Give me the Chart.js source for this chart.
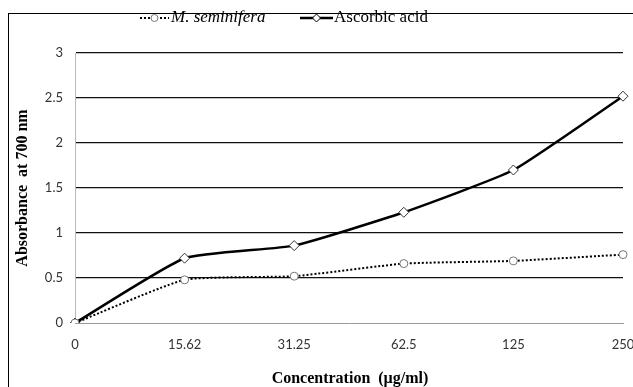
<!DOCTYPE html>
<html>
<head>
<meta charset="utf-8">
<script src="https://cdn.jsdelivr.net/npm/chart.js"></script>
<style>
  html, body { margin: 0; padding: 0; background: #fff; }
  #wrap { width: 633px; height: 387px; position: relative; }
</style>
</head>
<body>
<div id="wrap"><canvas id="myChart" width="633" height="387"></canvas></div>
<script>
const labels = ['0', '15.62', '31.25', '62.5', '125', '250'];
const seminifera = [0, 0.48, 0.52, 0.66, 0.69, 0.76];
const ascorbic = [0, 0.72, 0.86, 1.23, 1.70, 2.52];
const yTicks = [0, 0.5, 1, 1.5, 2, 2.5, 3];

const serif = '"Liberation Serif", "Times New Roman", serif';

// border, axis titles and the legend drawn by hand
const extras = {
    id: 'extras',
    afterDraw(chart) {
        const c = chart.ctx;
        c.save();
        c.strokeStyle = '#000';
        c.lineWidth = 1;
        c.strokeRect(8.5, 13.5, 700, 500);

        c.fillStyle = '#000';
        c.font = 'bold 16px ' + serif;
        c.textAlign = 'center';
        c.textBaseline = 'middle';
        c.fillText('Concentration  (\u00b5g/ml)', 350, 379);

        c.save();
        c.translate(23, 188);
        c.rotate(-Math.PI / 2);
        c.fillText('Absorbance  at 700 nm', 0, 0);
        c.restore();

        // legend item 1
        let y = 18;
        c.strokeStyle = '#000';
        c.lineWidth = 2;
        c.setLineDash([2, 2]);
        c.beginPath(); c.moveTo(140, y); c.lineTo(169, y); c.stroke();
        c.setLineDash([]);
        c.fillStyle = '#fff';
        c.strokeStyle = '#777';
        c.lineWidth = 1;
        c.beginPath(); c.arc(154.5, y, 3.5, 0, Math.PI * 2); c.fill(); c.stroke();
        c.fillStyle = '#000';
        c.font = 'italic 17px ' + serif;
        c.textAlign = 'left';
        c.fillText('M. seminifera', 171, y);

        // legend item 2
        c.strokeStyle = '#000';
        c.lineWidth = 2.5;
        c.beginPath(); c.moveTo(300, y); c.lineTo(333, y); c.stroke();
        c.fillStyle = '#fff';
        c.lineWidth = 1;
        c.beginPath();
        c.moveTo(316.5, y - 4); c.lineTo(320.5, y); c.lineTo(316.5, y + 4); c.lineTo(312.5, y);
        c.closePath(); c.fill(); c.stroke();
        c.fillStyle = '#000';
        c.font = '17px ' + serif;
        c.fillText('Ascorbic acid', 334, y);
        c.restore();
    }
};

new Chart(document.getElementById('myChart'), {
    type: 'line',
    data: {
        labels: labels,
        datasets: [{
            label: 'M. seminifera',
            data: seminifera,
            borderColor: '#000',
            borderWidth: 2,
            borderDash: [2, 2],
            tension: 0.15,
            pointStyle: 'circle',
            pointRadius: 4,
            pointBackgroundColor: '#fff',
            pointBorderColor: '#777',
            pointBorderWidth: 1
        }, {
            label: 'Ascorbic acid',
            data: ascorbic,
            borderColor: '#000',
            borderWidth: 2.5,
            tension: 0.15,
            pointStyle: 'rectRot',
            pointRadius: 5,
            pointBackgroundColor: '#fff',
            pointBorderColor: '#333',
            pointBorderWidth: 1
        }]
    },
    options: {
        responsive: false,
        animation: false,
        layout: { padding: { top: 53, right: 10, left: 0, bottom: 0 } },
        plugins: { legend: { display: false }, tooltip: { enabled: false } },
        scales: {
            x: {
                offset: false,
                afterFit(s) { s.height = 64; s.paddingLeft = 0; s.paddingRight = 0; },
                grid: { display: false, drawTicks: false },
                border: { color: '#999', width: 1 },
                ticks: { color: '#333', padding: 14, maxRotation: 0, font: { family: 'Lato, sans-serif', size: 13 } }
            },
            y: {
                min: 0, max: 3,
                afterFit(s) { s.width = 75; s.paddingTop = 0; s.paddingBottom = 0; },
                afterBuildTicks(s) { s.ticks = yTicks.map(v => ({ value: v })); },
                grid: {
                    drawTicks: false,
                    color: ctx => ctx.tick && ctx.tick.value === 0 ? 'rgba(0,0,0,0)' : '#111',
                    lineWidth: 1.3
                },
                border: { color: '#bbb', width: 1 },
                ticks: {
                    color: '#333', padding: 12,
                    font: { family: 'Lato, sans-serif', size: 13 },
                    callback: v => String(v)
                }
            }
        }
    },
    plugins: [extras]
});
</script>
</body>
</html>
